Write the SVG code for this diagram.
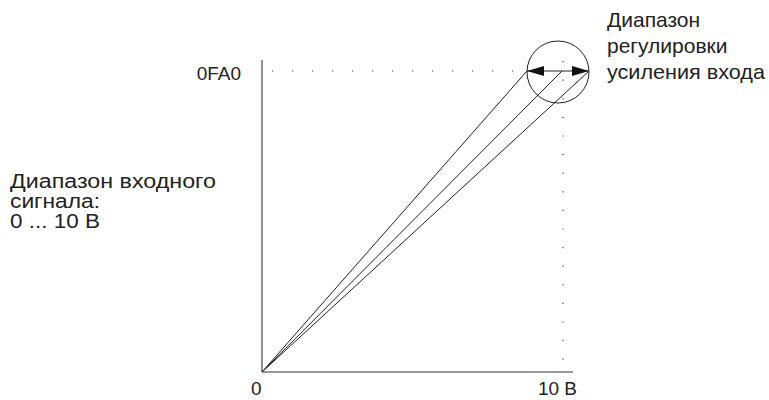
<svg xmlns="http://www.w3.org/2000/svg" width="769" height="400" viewBox="0 0 769 400">
<style>
.t{font-family:"Liberation Sans",Arial,sans-serif;font-size:19px;fill:#222}
.c{font-size:21px}
.l{font-size:19.5px}
.ax{stroke:#333;stroke-width:1.1;fill:none}
.ln{stroke:#222;stroke-width:1;fill:none}
.dot{stroke:#444;stroke-width:1.2;fill:none;stroke-dasharray:1.2 18.8}
.dotv{stroke:#444;stroke-width:1.2;fill:none;stroke-dasharray:1.2 17.4}
</style>
<defs>
<marker id="ah" viewBox="0 0 17 10" refX="17" refY="5" markerWidth="17" markerHeight="10" markerUnits="userSpaceOnUse" orient="auto-start-reverse">
<path d="M0,0 L17,5 L0,10 Z" fill="#111"/>
</marker>
</defs>
<g id="axes">
<line class="ax" x1="262" y1="60" x2="262" y2="372"/>
<line class="ax" x1="262" y1="372" x2="573" y2="372"/>
</g>
<g id="guides">
<line class="dot" x1="272" y1="71" x2="527" y2="71"/>
<line class="dotv" x1="563" y1="61" x2="563" y2="362"/>
</g>
<g id="connectors">
<line class="ln" x1="262" y1="372" x2="527" y2="71"/>
<line class="ln" x1="262" y1="372" x2="562" y2="71"/>
<line class="ln" x1="262" y1="372" x2="588" y2="72"/>
<line class="ln" x1="527" y1="71" x2="589" y2="71" stroke-width="1.4" marker-start="url(#ah)" marker-end="url(#ah)"/>
</g>
<g id="circle">
<circle class="ln" cx="558" cy="72" r="31"/>
</g>
<g id="labels">
<text class="t" x="241" y="80" text-anchor="end">0FA0</text>
<text class="t" x="251" y="395">0</text>
<text class="t" x="577" y="395" text-anchor="end">10 В</text>
<text class="t l" x="10" y="188" textLength="206" lengthAdjust="spacingAndGlyphs">Диапазон входного</text>
<text class="t l" x="10" y="208" textLength="90" lengthAdjust="spacingAndGlyphs">сигнала:</text>
<text class="t l" x="10" y="228" textLength="90" lengthAdjust="spacingAndGlyphs">0 ... 10 В</text>
<text class="t c" x="607" y="27">Диапазон</text>
<text class="t c" x="607" y="53">регулировки</text>
<text class="t c" x="607" y="79" textLength="158" lengthAdjust="spacingAndGlyphs">усиления входа</text>
</g>
</svg>
